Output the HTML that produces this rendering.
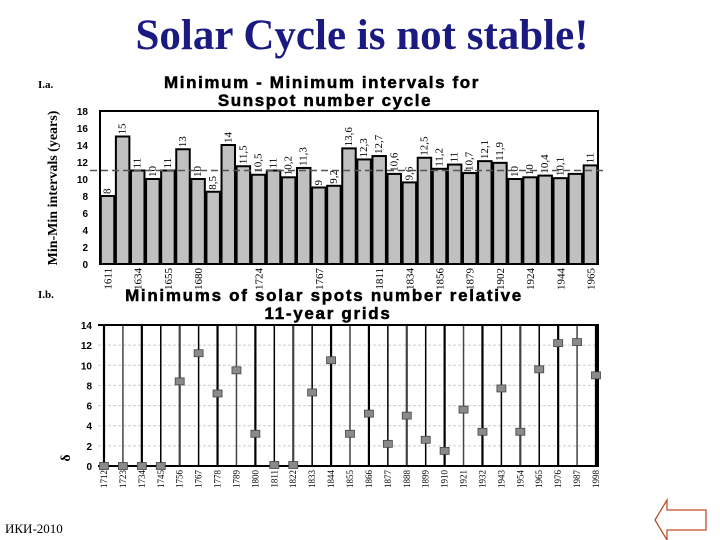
<!DOCTYPE html>
<html><head><meta charset="utf-8"><style>
body{margin:0;background:#fff;width:720px;height:540px;overflow:hidden}
svg{display:block}
</style></head><body>
<svg id="s" width="720" height="540" xmlns="http://www.w3.org/2000/svg">
<text x="362" y="49" text-anchor="middle" font-family="Liberation Serif, serif" font-weight="bold" font-size="43" fill="#1a1a80">Solar Cycle is not stable!</text>
<text x="38" y="88" font-family="Liberation Serif, serif" font-weight="bold" font-size="11">I.a.</text>
<text x="322" y="88" text-anchor="middle" font-family="Liberation Sans, sans-serif" font-weight="bold" font-size="17" letter-spacing="1.6" stroke="#000" stroke-width="0.5">Minimum - Minimum intervals  for</text>
<text x="325" y="106" text-anchor="middle" font-family="Liberation Sans, sans-serif" font-weight="bold" font-size="17" letter-spacing="1.6" stroke="#000" stroke-width="0.5">Sunspot number cycle</text>
<text transform="translate(57,188) rotate(-90)" text-anchor="middle" font-family="Liberation Serif, serif" font-weight="bold" font-size="14">Min-Min intervals (years)</text>
<text x="38" y="298" font-family="Liberation Serif, serif" font-weight="bold" font-size="11">I.b.</text>
<text x="324" y="301" text-anchor="middle" font-family="Liberation Sans, sans-serif" font-weight="bold" font-size="17" letter-spacing="1.7" stroke="#000" stroke-width="0.5">Minimums of solar spots number relative</text>
<text x="328" y="319" text-anchor="middle" font-family="Liberation Sans, sans-serif" font-weight="bold" font-size="17" letter-spacing="1.7" stroke="#000" stroke-width="0.5">11-year grids</text>
<text transform="translate(70,458) rotate(-90)" text-anchor="middle" font-family="Liberation Serif, serif" font-weight="bold" font-size="14">δ</text>
<text x="5" y="533" font-family="Liberation Serif, serif" font-size="13">ИКИ-2010</text>
<polygon points="655,520 667,500 667,510 706,510 706,530 667,530 667,540" fill="#fff" stroke="#c0502a" stroke-width="1.3"/>
<g id="ga"></g><g id="gb"></g>
</svg>
<script>
const barValues=[8,15,11,10,11,13.5,10,8.5,14,11.5,10.5,11,10.2,11.3,9,9.2,13.6,12.3,12.7,10.6,9.6,12.5,11.2,11.7,10.7,12.1,11.9,10,10.2,10.4,10.1,10.6,11.6];
const barPrinted=["8","15","11","10","11","13","10","8,5","14","11,5","10,5","11","10,2","11,3","9","9,2","13,6","12,3","12,7","10,6","9,6","12,5","11,2","11","10,7","12,1","11,9","10","10","10,4","10,1","","11"];
const barYears=["1611","","1634","","1655","","1680","","","","1724","","","","1767","","","","1811","","1834","","1856","","1879","","1902","","1924","","1944","","1965"];
const meanValue=11;
const yTicksA=[0,2,4,6,8,10,12,14,16,18];
const gridYears=["1712","1723","1734","1745","1756","1767","1778","1789","1800","1811","1822","1833","1844","1855","1866","1877","1888","1899","1910","1921","1932","1943","1954","1965","1976","1987","1998"];
const deltaValues=[0,0,0,0,8.4,11.2,7.2,9.5,3.2,0.1,0.1,7.3,10.5,3.2,5.2,2.2,5,2.6,1.5,5.6,3.4,7.7,3.4,9.6,12.2,12.3,9];
const yTicksB=[0,2,4,6,8,10,12,14];
const NS="http://www.w3.org/2000/svg";
function mk(p,t,a){const e=document.createElementNS(NS,t);for(const k in a)e.setAttribute(k,a[k]);p.appendChild(e);return e;}
const ga=document.getElementById('ga');
const AL=100,AR=598,AT=111,AB=264,AMAX=18;
const ay=v=>AB-(v/AMAX)*(AB-AT);
const slot=(AR-AL)/barValues.length;
const ax=i=>AL+i*slot;
yTicksA.forEach(t=>{const e=mk(ga,'text',{x:88,y:ay(t)+4,'text-anchor':'end','font-family':'Liberation Sans, sans-serif','font-weight':'bold','font-size':10});e.textContent=t;

});
barValues.forEach((v,i)=>{const r=mk(ga,'rect',{x:ax(i)+0.8,y:ay(v),width:slot-1.6,height:AB-ay(v),fill:'#c0c0c0',stroke:'#000','stroke-width':2});


if(barPrinted[i]){const cx=ax(i)+slot/2+3,cy=ay(v)-2;const t=mk(ga,'text',{transform:`translate(${cx},${cy}) rotate(-90)`,'font-family':'Liberation Serif, serif','font-size':11});t.textContent=barPrinted[i];

}
if(barYears[i]){const cx=ax(i)+slot/2+4,cy=AB+4;const t=mk(ga,'text',{transform:`translate(${cx},${cy}) rotate(-90)`,'text-anchor':'end','font-family':'Liberation Serif, serif','font-size':11});t.textContent=barYears[i];

}});
const fa=mk(ga,'rect',{x:AL,y:AT,width:AR-AL,height:AB-AT,fill:'none',stroke:'#000','stroke-width':2});


const ml=mk(ga,'line',{x1:AL-10,x2:AR+5,y1:ay(meanValue),y2:ay(meanValue),stroke:'#555','stroke-width':1.5,'stroke-dasharray':'7,4'});


const gb=document.getElementById('gb');
const BL=98,BR=598,BT=325,BB=466,BMAX=14;
const by=v=>BB-(v/BMAX)*(BB-BT);
const X0=104,X1=596;
const bx=i=>X0+i*(X1-X0)/(gridYears.length-1);
yTicksB.forEach(t=>{const e=mk(gb,'text',{x:92,y:by(t)+4,'text-anchor':'end','font-family':'Liberation Sans, sans-serif','font-weight':'bold','font-size':10});e.textContent=t;


if(t>0&&t<BMAX){const g=mk(gb,'line',{x1:BL,x2:BR,y1:by(t),y2:by(t),stroke:'#ccc','stroke-dasharray':'3,2'});

}});
gridYears.forEach((yr,i)=>{const x=bx(i);const l=mk(gb,'line',{x1:x,x2:x,y1:BT,y2:BB,stroke:i%3==1?'#444':'#000','stroke-width':i%2?1.5:2.2});


const t=mk(gb,'text',{transform:`translate(${x+3},${BB+4}) rotate(-90)`,'text-anchor':'end','font-family':'Liberation Serif, serif','font-size':9});t.textContent=yr;

});
const fb=mk(gb,'path',{d:`M${BL},${BT}H${BR}V${BB}H${BL}`,fill:'none',stroke:'#000','stroke-width':2});


const xb=mk(gb,'line',{x1:BL,x2:BR,y1:BB,y2:BB,stroke:'#000','stroke-width':2});


deltaValues.forEach((v,i)=>{const m=mk(gb,'rect',{x:bx(i)-4.5,y:by(v)-3.5,width:9,height:7,fill:'#8a8a8a',stroke:'#444','stroke-width':0.8});

});
</script>
</body></html>
